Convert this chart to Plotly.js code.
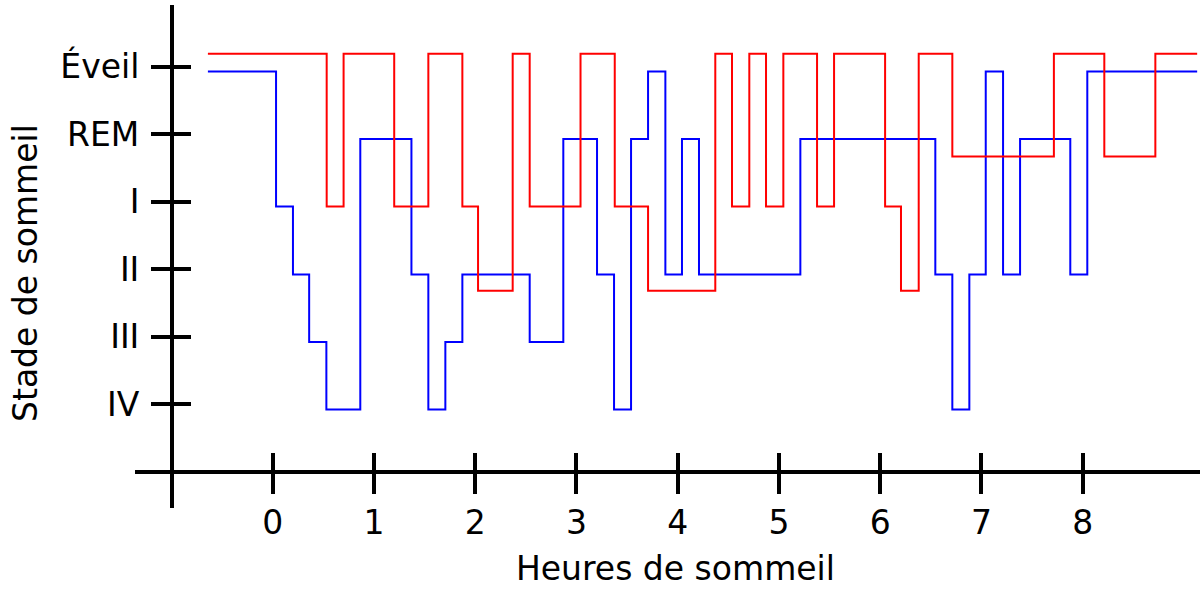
<!DOCTYPE html>
<html>
<head>
<meta charset="utf-8">
<script src="https://cdn.plot.ly/plotly-3.0.1.min.js"></script>
<style>html,body{margin:0;padding:0;background:#fff}#chart{width:1200px;height:592px}</style>
</head>
<body>
<div id="chart"></div>
<script>
// Stage tick values and labels
const stageVals = [0, 1, 2, 3, 4, 5];
const stageLabels = ['IV', 'III', 'II', 'I', 'REM', 'Éveil'];
const hourVals = [0, 1, 2, 3, 4, 5, 6, 7, 8];
const hourLabels = ['0', '1', '2', '3', '4', '5', '6', '7', '8'];

// Blue series: step start times (hours) and level
const blueHours = [-0.64, 0.033, 0.20, 0.36, 0.53, 0.865, 1.37, 1.537, 1.705, 1.873, 2.538, 2.87, 3.203, 3.371, 3.539, 3.707, 3.878, 4.042, 4.21, 5.211, 6.544, 6.712, 6.88, 7.042, 7.213, 7.381, 7.877, 8.045, 9.13];
const blueLevels = [4.93, 2.93, 1.92, 0.92, -0.08, 3.93, 1.92, -0.08, 0.92, 1.92, 0.92, 3.93, 1.92, -0.08, 3.93, 4.93, 1.92, 3.93, 1.92, 3.93, 1.92, -0.08, 1.92, 4.93, 1.92, 3.93, 1.92, 4.93, 4.93];

// Red series
const redHours = [-0.64, 0.533, 0.70, 1.20, 1.537, 1.873, 2.028, 2.37, 2.538, 3.04, 3.378, 3.707, 4.371, 4.536, 4.707, 4.872, 5.043, 5.376, 5.544, 6.048, 6.205, 6.38, 6.712, 7.715, 8.213, 8.717, 9.13];
const redLevels = [5.19, 2.93, 5.19, 2.93, 5.19, 2.93, 1.68, 5.19, 2.93, 5.19, 2.93, 1.68, 5.19, 2.93, 5.19, 2.93, 5.19, 2.93, 5.19, 2.93, 1.68, 5.19, 3.67, 5.19, 3.67, 5.19, 5.19];

const xRange = [-1.36, 9.158];
const yRange = [-1.538, 5.914];
const xDomain = [0.1125, 1];
const yDomain = [0.1419, 0.9916];
const xPos = 0.2027;
const yPos = 0.1433;

const traces = [
  {x: blueHours, y: blueLevels, mode: 'lines', line: {shape: 'hv', color: '#0000ff', width: 2}, xaxis: 'x', yaxis: 'y', hoverinfo: 'skip'},
  {x: redHours, y: redLevels, mode: 'lines', line: {shape: 'hv', color: '#ff0000', width: 2}, xaxis: 'x', yaxis: 'y', hoverinfo: 'skip'},
  {x: [], y: [], mode: 'lines', xaxis: 'x2', yaxis: 'y2', hoverinfo: 'skip'}
];

const axisCommon = {showgrid: false, zeroline: false, automargin: false, fixedrange: true};

const layout = {
  width: 1200, height: 592,
  margin: {l: 0, r: 0, t: 0, b: 0},
  paper_bgcolor: '#ffffff', plot_bgcolor: 'rgba(0,0,0,0)',
  showlegend: false,
  font: {family: 'DejaVu Sans, Verdana, sans-serif', size: 33, color: '#000'},
  xaxis: Object.assign({}, axisCommon, {
    domain: xDomain, range: xRange, anchor: 'free', position: xPos,
    showline: true, linewidth: 4, linecolor: '#000',
    ticks: 'outside', ticklen: 20, tickwidth: 4, tickcolor: '#000',
    tickmode: 'array', tickvals: hourVals, ticktext: hourLabels,
    ticklabelstandoff: 0
  }),
  xaxis2: Object.assign({}, axisCommon, {
    overlaying: 'x', range: xRange, anchor: 'free', position: xPos,
    showline: false, ticks: 'inside', ticklen: 19, tickwidth: 4, tickcolor: '#000',
    tickmode: 'array', tickvals: hourVals, showticklabels: false
  }),
  yaxis: Object.assign({}, axisCommon, {
    domain: yDomain, range: yRange, anchor: 'free', position: yPos,
    showline: true, linewidth: 4, linecolor: '#000',
    ticks: 'outside', ticklen: 19, tickwidth: 4, tickcolor: '#000',
    tickmode: 'array', tickvals: stageVals, ticktext: stageLabels,
    ticklabelstandoff: 5
  }),
  yaxis2: Object.assign({}, axisCommon, {
    overlaying: 'y', range: yRange, anchor: 'free', position: yPos,
    showline: false, ticks: 'inside', ticklen: 18, tickwidth: 4, tickcolor: '#000',
    tickmode: 'array', tickvals: stageVals, showticklabels: false
  }),
  annotations: [
    {text: 'Heures de sommeil', xref: 'paper', yref: 'paper', x: 675 / 1200, y: 1 - 568 / 592, xanchor: 'center', yanchor: 'middle', showarrow: false, font: {size: 33}},
    {text: 'Stade de sommeil', xref: 'paper', yref: 'paper', x: 25 / 1200, y: 1 - 273 / 592, xanchor: 'center', yanchor: 'middle', textangle: -90, showarrow: false, font: {size: 33}}
  ]
};

Plotly.newPlot('chart', traces, layout, {staticPlot: true, displayModeBar: false});
</script>
</body>
</html>
